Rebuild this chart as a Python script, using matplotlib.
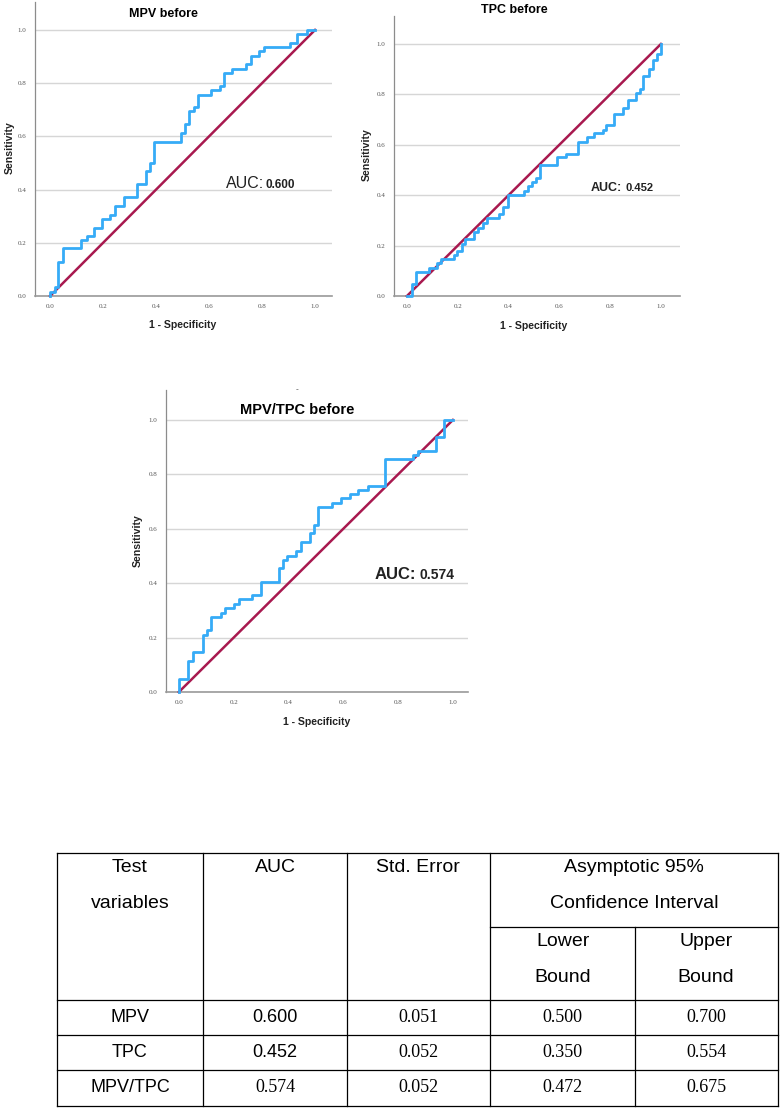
import matplotlib

matplotlib.use("Agg")
import matplotlib.pyplot as plt

W, H = 780, 1112

# ROC step vertices (1 - specificity, sensitivity)
mpv_fpr = [0, 0, 0.019, 0.031, 0.05, 0.116, 0.14, 0.166, 0.195, 0.226, 0.245,
           0.28, 0.327, 0.361, 0.377, 0.392, 0.493, 0.51, 0.526, 0.543, 0.56,
           0.608, 0.642, 0.657, 0.688, 0.74, 0.757, 0.79, 0.807, 0.906, 0.931,
           0.969, 1.0]
mpv_tpr = [0, 0.016, 0.035, 0.129, 0.179, 0.21, 0.226, 0.257, 0.29, 0.305,
           0.34, 0.371, 0.42, 0.468, 0.5, 0.58, 0.612, 0.646, 0.694, 0.71,
           0.757, 0.775, 0.79, 0.838, 0.854, 0.873, 0.903, 0.92, 0.936, 0.951,
           0.985, 1.0, 1.0]

tpc_fpr = [0, 0.020, 0.037, 0.085, 0.118, 0.135, 0.184, 0.197, 0.216, 0.230,
           0.262, 0.279, 0.299, 0.315, 0.363, 0.380, 0.397, 0.459, 0.476,
           0.492, 0.509, 0.525, 0.590, 0.626, 0.673, 0.708, 0.738, 0.770,
           0.783, 0.817, 0.852, 0.870, 0.901, 0.918, 0.931, 0.951, 0.967,
           0.985, 1.0]
tpc_tpr = [0, 0.048, 0.096, 0.112, 0.13, 0.145, 0.162, 0.18, 0.205, 0.225,
           0.255, 0.271, 0.288, 0.308, 0.324, 0.354, 0.40, 0.417, 0.436, 0.453,
           0.469, 0.519, 0.552, 0.565, 0.612, 0.629, 0.645, 0.66, 0.678, 0.724,
           0.744, 0.777, 0.806, 0.823, 0.872, 0.902, 0.938, 0.96, 1.0]

ratio_fpr = [0, 0, 0.035, 0.051, 0.088, 0.102, 0.118, 0.152, 0.167, 0.201,
             0.218, 0.265, 0.299, 0.365, 0.379, 0.395, 0.429, 0.445, 0.478,
             0.494, 0.509, 0.560, 0.591, 0.624, 0.655, 0.689, 0.752, 0.855,
             0.874, 0.937, 0.967, 1.0]
ratio_tpr = [0, 0.049, 0.113, 0.147, 0.209, 0.229, 0.274, 0.291, 0.307, 0.323,
             0.34, 0.356, 0.405, 0.454, 0.485, 0.501, 0.518, 0.55, 0.583, 0.613,
             0.679, 0.696, 0.712, 0.728, 0.742, 0.757, 0.856, 0.871, 0.886,
             0.938, 1.0, 1.0]

ticks = [0.0, 0.2, 0.4, 0.6, 0.8, 1.0]

titles = ["MPV before", "TPC before", "MPV/TPC before"]
auc_labels = ["0.600", "0.452", "0.574"]

# table
row_names = ["MPV", "TPC", "MPV/TPC"]
auc_vals = ["0.600", "0.452", "0.574"]
se_vals = ["0.051", "0.052", "0.052"]
lower_vals = ["0.500", "0.350", "0.472"]
upper_vals = ["0.700", "0.554", "0.675"]

BLUE = "#36abf7"
DIAG = "#a8194f"
SANS = ["Liberation Sans", "DejaVu Sans"]
SERIF = ["Liberation Serif", "DejaVu Serif"]


def fx(x):
    return x / W


def fy(y):
    return 1 - y / H


def roc_panel(fig, box, xlim, ylim, fpr, tpr):
    l, t, r, b = box
    ax = fig.add_axes([fx(l), fy(b), (r - l) / W, (b - t) / H])
    ax.plot([0, 1], [0, 1], color=DIAG, lw=1.8, clip_on=False, zorder=3)
    ax.plot(fpr, tpr, color=BLUE, lw=2.0, drawstyle="steps-post",
            clip_on=False, zorder=4)
    ax.set_xlim(*xlim)
    ax.set_ylim(*ylim)
    ax.set_xticks(ticks)
    ax.set_yticks(ticks)
    ax.set_xticklabels([f"{v:.1f}" for v in ticks])
    ax.set_yticklabels([f"{v:.1f}" for v in ticks])
    ax.tick_params(length=0, labelsize=5, colors="#555555", pad=6)
    for lab in ax.get_xticklabels() + ax.get_yticklabels():
        lab.set_family(SERIF)
    ax.yaxis.grid(True, color="#d6d6d6", lw=1.0)
    ax.set_axisbelow(True)
    for s in ("top", "right"):
        ax.spines[s].set_visible(False)
    ax.spines["left"].set_color("#8c8c8c")
    ax.spines["bottom"].set_color("#9a9a9a")
    ax.spines["left"].set_linewidth(0.9)
    ax.spines["bottom"].set_linewidth(1.2)
    return ax


fig = plt.figure(figsize=(W / 100, H / 100), dpi=100)

panels = [
    dict(box=(35, 2, 332, 296), xlim=(-0.057, 1.064), ylim=(0, 1.105),
         fpr=mpv_fpr, tpr=mpv_tpr,
         title=(163, 17, 9), ylab=(10, 148), xlab=(183, 325),
         auc=(226, 265, 188, 11.5, "normal", 8.5)),
    dict(box=(394, 16, 680, 296), xlim=(-0.051, 1.075), ylim=(0, 1.111),
         fpr=tpc_fpr, tpr=tpc_tpr,
         title=(514, 13, 9), ylab=(367, 155), xlab=(534, 326),
         auc=(591, 626, 191, 9, "bold", 8)),
    dict(box=(166, 390, 468, 692), xlim=(-0.047, 1.055), ylim=(0, 1.11),
         fpr=ratio_fpr, tpr=ratio_tpr,
         title=(297, 414, 10.5), ylab=(138, 541), xlab=(317, 722),
         auc=(375, 420, 579, 12, "bold", 10)),
]

for i, p in enumerate(panels):
    roc_panel(fig, p["box"], p["xlim"], p["ylim"], p["fpr"], p["tpr"])
    tx, ty, ts = p["title"]
    fig.text(fx(tx), fy(ty), titles[i], ha="center", va="baseline",
             fontsize=ts, fontweight="bold", family=SANS)
    fig.text(fx(p["ylab"][0]), fy(p["ylab"][1]), "Sensitivity", rotation=90,
             ha="center", va="center", fontsize=7.6, fontweight="bold",
             family=SANS, color="#222222")
    fig.text(fx(p["xlab"][0]), fy(p["xlab"][1]), "1 - Specificity",
             ha="center", va="center", fontsize=7.6, fontweight="bold",
             family=SANS, color="#222222")
    ax0, ax1, base, s_auc, w_auc, s_num = p["auc"]
    fig.text(fx(ax0), fy(base), "AUC:", ha="left", va="baseline",
             fontsize=s_auc, fontweight=w_auc, family=SANS, color="#222222")
    fig.text(fx(ax1), fy(base), auc_labels[i], ha="left", va="baseline",
             fontsize=s_num, fontweight="bold", family=SANS, color="#222222")

# small stray dash above the third panel
fig.text(fx(297), fy(390), "-", ha="center", va="center", fontsize=6,
         color="#444444", family=SANS)

# ---- table ------------------------------------------------------------
tab = fig.add_axes([0, 0, 1, 1], zorder=-1)
tab.set_xlim(0, W)
tab.set_ylim(H, 0)
tab.axis("off")

col_x = [57, 203, 347, 490, 635, 778]
row_y = [1000, 1035, 1070, 1106]
top_y = 853
lk = dict(color="black", lw=0.9)
tab.plot([57, 778], [top_y, top_y], **lk)
tab.plot([490, 778], [927, 927], **lk)
for y in row_y:
    tab.plot([57, 778], [y, y], **lk)
for x in col_x:
    y0 = 927 if x == 635 else top_y
    tab.plot([x, x], [y0, 1106], **lk)

hdr = [(130, 867, "Test"), (130, 904, "variables"), (275, 867, "AUC"),
       (418, 867, "Std. Error"), (634, 867, "Asymptotic 95%"),
       (634, 904, "Confidence Interval"), (563, 941, "Lower"),
       (563, 977, "Bound"), (706, 941, "Upper"), (706, 977, "Bound")]
for x, y, s in hdr:
    tab.text(x, y, s, ha="center", va="center", fontsize=14, family=SANS)

centers = [(col_x[k] + col_x[k + 1]) / 2 for k in range(5)]
for r in range(3):
    yc = (row_y[r] + row_y[r + 1]) / 2
    tab.text(centers[0], yc, row_names[r], ha="center", va="center",
             fontsize=13, family=SANS)
    tab.text(centers[1], yc, auc_vals[r], ha="center", va="center",
             fontsize=13, family=SANS if r < 2 else SERIF)
    tab.text(centers[2], yc, se_vals[r], ha="center", va="center",
             fontsize=13, family=SERIF)
    tab.text(centers[3], yc, lower_vals[r], ha="center", va="center",
             fontsize=13, family=SERIF)
    tab.text(centers[4], yc, upper_vals[r], ha="center", va="center",
             fontsize=13, family=SERIF)

fig.savefig("out.png", dpi=100)
